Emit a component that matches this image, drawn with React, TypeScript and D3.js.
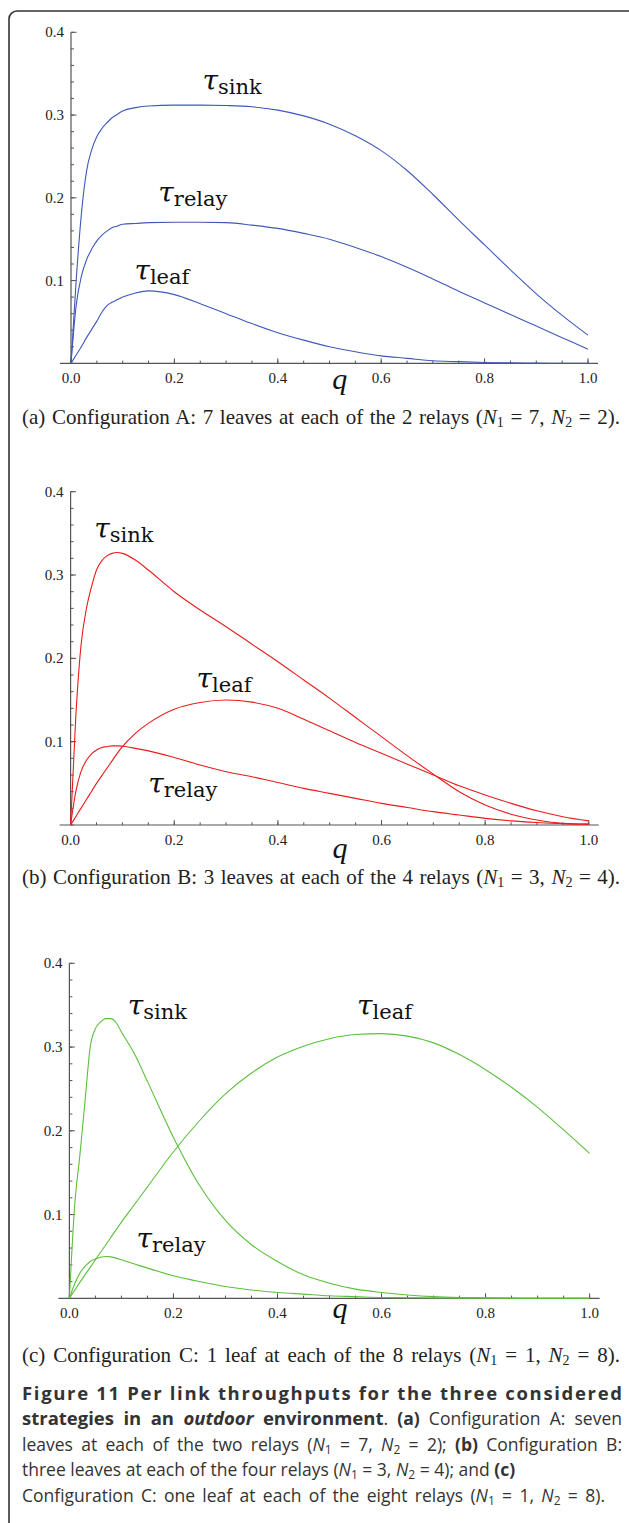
import React, { useLayoutEffect, useRef } from "react";
import * as d3 from "d3";

// q grid shared by all curves
const qGrid = [
  0, 0.01, 0.02, 0.03, 0.04, 0.05, 0.06, 0.07, 0.08, 0.09, 0.1, 0.125, 0.15,
  0.2, 0.25, 0.3, 0.35, 0.4, 0.45, 0.5, 0.55, 0.6, 0.65, 0.7, 0.75, 0.8, 0.85,
  0.9, 0.95, 1.0,
];

// Configuration A (blue)
const sinkA = [
  0, 0.1, 0.18, 0.232, 0.258, 0.274, 0.284, 0.291, 0.297, 0.301, 0.305, 0.309,
  0.311, 0.312, 0.312, 0.3115, 0.31, 0.306, 0.299, 0.289, 0.275, 0.257, 0.233,
  0.204, 0.173, 0.143, 0.113, 0.084, 0.058, 0.034,
];
const relayA = [
  0, 0.07, 0.105, 0.125, 0.138, 0.148, 0.155, 0.16, 0.164, 0.166, 0.168, 0.169,
  0.17, 0.1705, 0.1705, 0.17, 0.167, 0.163, 0.157, 0.15, 0.14, 0.129, 0.116,
  0.102, 0.087, 0.073, 0.059, 0.045, 0.031, 0.017,
];
const leafA = [
  0, 0.01, 0.02, 0.031, 0.041, 0.051, 0.062, 0.07, 0.074, 0.077, 0.08, 0.085,
  0.0875, 0.083, 0.072, 0.06, 0.048, 0.037, 0.028, 0.02, 0.014, 0.009, 0.006,
  0.003, 0.002, 0.001, 0.0005, 0.0002, 0.0001, 0,
];

// Configuration B (red)
const sinkB = [
  0, 0.13, 0.215, 0.258, 0.285, 0.306, 0.317, 0.323, 0.326, 0.327, 0.326, 0.318,
  0.306, 0.28, 0.258, 0.238, 0.217, 0.196, 0.174, 0.152, 0.129, 0.106, 0.083,
  0.061, 0.04, 0.024, 0.013, 0.006, 0.002, 0.001,
];
const leafB = [
  0, 0.01, 0.02, 0.03, 0.04, 0.05, 0.059, 0.068, 0.077, 0.086, 0.094, 0.11,
  0.122, 0.139, 0.147, 0.15, 0.1475, 0.14, 0.127, 0.113, 0.099, 0.086, 0.073,
  0.06, 0.047, 0.036, 0.026, 0.017, 0.01, 0.005,
];
const relayB = [
  0, 0.04, 0.064, 0.077, 0.085, 0.09, 0.093, 0.094, 0.095, 0.095, 0.0945, 0.092,
  0.089, 0.081, 0.072, 0.064, 0.058, 0.051, 0.044, 0.038, 0.032, 0.026, 0.021,
  0.016, 0.012, 0.008, 0.005, 0.003, 0.0015, 0.001,
];

// Configuration C (green)
const sinkC = [
  0, 0.11, 0.17, 0.235, 0.3, 0.322, 0.33, 0.334, 0.334, 0.329, 0.318, 0.292,
  0.259, 0.192, 0.135, 0.093, 0.064, 0.044, 0.028, 0.018, 0.011, 0.007, 0.004,
  0.002, 0.001, 0.0005, 0.0002, 0.0001, 0, 0,
];
const leafC = [
  0, 0.0095, 0.019, 0.028, 0.037, 0.046, 0.055, 0.064, 0.073, 0.082, 0.091,
  0.112, 0.133, 0.175, 0.212, 0.244, 0.269, 0.288, 0.301, 0.31, 0.315, 0.316,
  0.313, 0.305, 0.291, 0.273, 0.252, 0.228, 0.201, 0.173,
];
const relayC = [
  0, 0.017, 0.03, 0.038, 0.044, 0.047, 0.049, 0.05, 0.0495, 0.048, 0.046, 0.041,
  0.036, 0.027, 0.02, 0.014, 0.01, 0.007, 0.005, 0.003, 0.002, 0.001, 0.0007,
  0.0004, 0.0002, 0.0001, 0, 0, 0, 0,
];

const xMajor = [0, 0.2, 0.4, 0.6, 0.8, 1.0];
const xLabels = ["0.0", "0.2", "0.4", "0.6", "0.8", "1.0"];
const yMajor = [0.1, 0.2, 0.3, 0.4];
const yLabels = ["0.1", "0.2", "0.3", "0.4"];

const panels = [
  {
    color: "#4059b8",
    x0: 71, x1: 588, top: 32.3, base: 363.3, qDy: 26,
    caption: { tag: "(a)", text: "Configuration A: 7 leaves at each of the 2 relays (", n1: "7", n2: "2", y: 424 },
    series: [
      { values: sinkA, name: "sink", lq: 0.2545, lv: 0.33 },
      { values: relayA, name: "relay", lq: 0.169, lv: 0.195 },
      { values: leafA, name: "leaf", lq: 0.1226, lv: 0.1007 },
    ],
  },
  {
    color: "#e81c1c",
    x0: 70.6, x1: 588.8, top: 491.7, base: 825, qDy: 33,
    caption: { tag: "(b)", text: "Configuration B: 3 leaves at each of the 4 relays (", n1: "3", n2: "4", y: 884 },
    series: [
      { values: sinkB, name: "sink", lq: 0.0457, lv: 0.3444 },
      { values: leafB, name: "leaf", lq: 0.243, lv: 0.1644 },
      { values: relayB, name: "relay", lq: 0.15, lv: 0.0384 },
    ],
  },
  {
    color: "#5cbf3c",
    x0: 69.4, x1: 589.6, top: 963.3, base: 1298.3, qDy: 20,
    caption: { tag: "(c)", text: "Configuration C: 1 leaf at each of the 8 relays (", n1: "1", n2: "8", y: 1362 },
    series: [
      { values: sinkC, name: "sink", lq: 0.112, lv: 0.338 },
      { values: leafC, name: "leaf", lq: 0.553, lv: 0.338 },
      { values: relayC, name: "relay", lq: 0.129, lv: 0.06 },
    ],
  },
];

const serif = "'Liberation Serif', 'Times New Roman', serif";
const mathFont = "'DejaVu Serif', serif";
const sans = "'Open Sans', Lato, sans-serif";
const axisColor = "#555";

function Panel({ p }) {
  const x = d3.scaleLinear().domain([0, 1]).range([p.x0, p.x1]);
  const y = d3.scaleLinear().domain([0, 0.4]).range([p.base, p.top]);
  const line = d3
    .line()
    .x((d) => x(d[0]))
    .y((d) => y(d[1]))
    .curve(d3.curveMonotoneX);
  const xMinor = d3.range(0, 1.0001, 0.05);
  const yMinor = d3.range(0, 0.4001, 0.02);

  return (
    <g>
      {/* x axis */}
      <line x1={p.x0 - 11} x2={p.x1 + 10} y1={p.base} y2={p.base} stroke={axisColor} strokeWidth={1.2} />
      {xMinor.map((t, i) => (
        <line key={"xm" + i} x1={x(t)} x2={x(t)} y1={p.base} y2={p.base - 2.7} stroke={axisColor} />
      ))}
      {xMajor.map((t, i) => (
        <g key={"xM" + i}>
          <line x1={x(t)} x2={x(t)} y1={p.base} y2={p.base - 5} stroke={axisColor} />
          <text x={x(t)} y={p.base + 20} textAnchor="middle" fontFamily={serif} fontSize={15} fill="#222">
            {xLabels[i]}
          </text>
        </g>
      ))}
      {/* y axis */}
      <line x1={p.x0} x2={p.x0} y1={p.base} y2={p.top} stroke={axisColor} strokeWidth={1.2} />
      {yMinor.map((t, i) => (
        <line key={"ym" + i} x1={p.x0} x2={p.x0 + 3} y1={y(t)} y2={y(t)} stroke={axisColor} />
      ))}
      {yMajor.map((t, i) => (
        <g key={"yM" + i}>
          <line x1={p.x0} x2={p.x0 + 5.5} y1={y(t)} y2={y(t)} stroke={axisColor} />
          <text x={p.x0 - 7} y={y(t) + 5} textAnchor="end" fontFamily={serif} fontSize={15} fill="#222">
            {yLabels[i]}
          </text>
        </g>
      ))}
      {/* curves */}
      {p.series.map((s, i) => (
        <path
          key={"s" + i}
          d={line(qGrid.map((q, j) => [q, s.values[j]]))}
          fill="none"
          stroke={p.color}
          strokeWidth={1.1}
        />
      ))}
      {/* curve labels */}
      {p.series.map((s, i) => (
        <text key={"l" + i} x={x(s.lq)} y={y(s.lv)} fontFamily={mathFont} fill="#111">
          <tspan fontStyle="italic" fontSize={28}>τ</tspan>
          <tspan fontSize={21} dy={4}>{s.name}</tspan>
        </text>
      ))}
      {/* x axis title */}
      <text x={x(0.52)} y={p.base + p.qDy} textAnchor="middle" fontFamily={serif} fontStyle="italic" fontSize={30} fill="#111">
        q
      </text>
      {/* sub-caption */}
      <text x={22} y={p.caption.y} data-w={598} fontFamily={serif} fontSize={21} fill="#222">
        {p.caption.tag + " " + p.caption.text}
        <tspan fontStyle="italic">N</tspan>
        <tspan fontSize={14} dy={3}>1</tspan>
        <tspan dy={-3}>{" = " + p.caption.n1 + ", "}</tspan>
        <tspan fontStyle="italic">N</tspan>
        <tspan fontSize={14} dy={3}>2</tspan>
        <tspan dy={-3}>{" = " + p.caption.n2 + ")."}</tspan>
      </text>
    </g>
  );
}

function Sub({ n }) {
  return (
    <>
      <tspan fontStyle="italic">N</tspan>
      <tspan fontSize={12} dy={3}>{n}</tspan>
    </>
  );
}

// stretch gaps so each marked line spans its data-w width
function justify(svg) {
  svg.querySelectorAll("text[data-w]").forEach((el) => {
    el.setAttribute("word-spacing", "0");
    el.setAttribute("letter-spacing", "0");
    const target = +el.getAttribute("data-w");
    const natural = el.getComputedTextLength();
    const txt = el.textContent;
    if (el.getAttribute("data-mode") === "letters") {
      el.setAttribute("letter-spacing", String((target - natural) / (txt.length - 1)));
    } else {
      const gaps = (txt.match(/ /g) || []).length;
      if (gaps) el.setAttribute("word-spacing", String((target - natural) / gaps));
    }
  });
}

export default function App() {
  const ref = useRef(null);
  useLayoutEffect(() => {
    if (!ref.current) return;
    justify(ref.current);
    if (document.fonts) document.fonts.ready.then(() => ref.current && justify(ref.current));
  }, []);

  const boxPath = "M9,1540 V19 A8,8 0 0 1 17,11 H640";
  return (
    <div style={{ position: "absolute", left: 0, top: 0 }}>
      <svg ref={ref} width={629} height={1523} style={{ display: "block", background: "#fff" }}>
        <path d={boxPath} fill="none" stroke="#333" strokeWidth={1.6} />
        {panels.map((p, i) => (
          <Panel key={i} p={p} />
        ))}
        {/* figure caption */}
        <g fontFamily={sans} fontSize={17.5} fill="#333">
          <text x={22} y={1400} data-w={600} data-mode="letters" fontWeight="bold" fontSize={18.5}>
            Figure 11 Per link throughputs for the three considered
          </text>
          <text x={22} y={1425} data-w={600}>
            <tspan fontWeight="bold" fontSize={18.5}>strategies in an </tspan>
            <tspan fontWeight="bold" fontStyle="italic" fontSize={18.5}>outdoor</tspan>
            <tspan fontWeight="bold" fontSize={18.5}> environment</tspan>
            {". "}
            <tspan fontWeight="bold">(a)</tspan>
            {" Configuration A: seven"}
          </text>
          <text x={22} y={1451} data-w={600}>
            {"leaves at each of the two relays ("}
            <Sub n="1" />
            <tspan dy={-3}>{" = 7, "}</tspan>
            <Sub n="2" />
            <tspan dy={-3}>{" = 2); "}</tspan>
            <tspan fontWeight="bold">(b)</tspan>
            {" Configuration B:"}
          </text>
          <text x={22} y={1476}>
            {"three leaves at each of the four relays ("}
            <Sub n="1" />
            <tspan dy={-3}>{" = 3, "}</tspan>
            <Sub n="2" />
            <tspan dy={-3}>{" = 4); and "}</tspan>
            <tspan fontWeight="bold">(c)</tspan>
          </text>
          <text x={22} y={1502} data-w={583}>
            {"Configuration C: one leaf at each of the eight relays ("}
            <Sub n="1" />
            <tspan dy={-3}>{" = 1, "}</tspan>
            <Sub n="2" />
            <tspan dy={-3}>{" = 8)."}</tspan>
          </text>
        </g>
      </svg>
    </div>
  );
}
